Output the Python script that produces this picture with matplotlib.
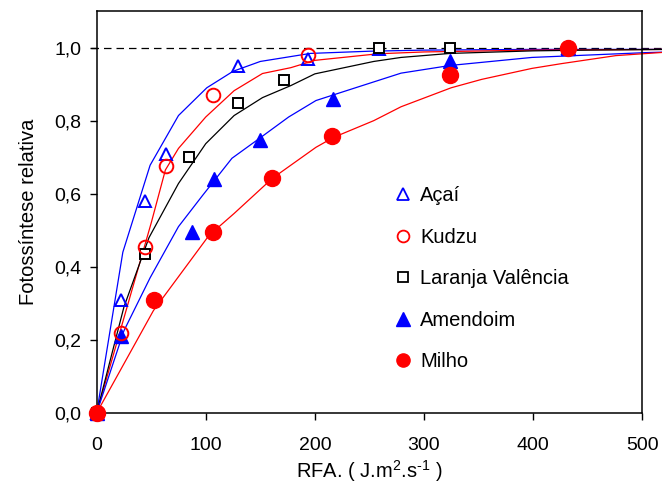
import matplotlib
matplotlib.use("Agg")
import matplotlib.pyplot as plt
from matplotlib.lines import Line2D

plt.rcParams['font.family'] = ['Liberation Sans', 'DejaVu Sans']
plt.rcParams['mathtext.fontset'] = 'custom'
plt.rcParams['mathtext.rm'] = 'Liberation Sans'
plt.rcParams['mathtext.default'] = 'regular'

# ---- observed data ----
acai_x = [0, 22, 44, 64, 130, 194, 259, 432]
acai_y = [0, 0.31, 0.58, 0.71, 0.95, 0.97, 0.995, 1.0]

kudzu_x = [0, 22, 44, 64, 107, 194]
kudzu_y = [0, 0.22, 0.455, 0.675, 0.87, 0.98]

laranja_x = [0, 44, 85, 130, 172, 259, 324]
laranja_y = [0, 0.434, 0.70, 0.848, 0.91, 1.0, 1.0]

amendoim_x = [0, 22, 87, 108, 150, 217, 324, 432]
amendoim_y = [0, 0.21, 0.495, 0.64, 0.746, 0.858, 0.962, 1.0]

milho_x = [0, 53, 107, 161, 216, 324, 432]
milho_y = [0, 0.309, 0.495, 0.642, 0.757, 0.926, 1.0]

# ---- fitted curves ----
fit_acai_x = [0, 24, 49, 75, 101, 125, 150, 196, 250, 300, 400, 525]
fit_acai_y = [0, 0.44, 0.678, 0.814, 0.89, 0.935, 0.962, 0.984, 0.99, 0.993, 0.995, 0.995]

fit_kudzu_x = [0, 25, 50, 63, 75, 100, 126, 152, 178, 200, 258, 300, 400, 525]
fit_kudzu_y = [0, 0.26, 0.52, 0.665, 0.724, 0.81, 0.882, 0.929, 0.945, 0.965, 0.983, 0.988, 0.993, 0.995]

fit_laranja_x = [0, 25, 48, 75, 100, 126, 152, 178, 200, 254, 279, 324, 400, 450, 525]
fit_laranja_y = [0, 0.29, 0.48, 0.628, 0.737, 0.814, 0.863, 0.896, 0.928, 0.962, 0.973, 0.984, 0.991, 0.993, 0.995]

fit_amendoim_x = [0, 25, 49, 75, 97, 124, 149, 176, 201, 230, 279, 324, 399, 502, 525]
fit_amendoim_y = [0, 0.225, 0.37, 0.51, 0.595, 0.697, 0.751, 0.81, 0.855, 0.883, 0.93, 0.951, 0.973, 0.986, 0.988]

fit_milho_x = [0, 52, 103, 126, 161, 201, 217, 254, 279, 325, 353, 399, 426, 476, 525]
fit_milho_y = [0, 0.28, 0.486, 0.546, 0.642, 0.727, 0.754, 0.80, 0.838, 0.89, 0.913, 0.943, 0.956, 0.978, 0.988]

labels = ['Açaí', 'Kudzu', 'Laranja Valência', 'Amendoim', 'Milho']
xticks = [0, 100, 200, 300, 400, 500]
yticks = [0.0, 0.2, 0.4, 0.6, 0.8, 1.0]
ytick_labels = ['0,0', '0,2', '0,4', '0,6', '0,8', '1,0']

W, H = 662, 492
fig = plt.figure(figsize=(W / 100, H / 100), dpi=100)
ax = fig.add_axes([0.146, 0.1606, 0.824, 0.817])

ax.plot([-5, 525], [1.0, 1.0], color='black', lw=0.9, ls=(0, (6, 4)), clip_on=False, zorder=1)

lw = 0.9
ax.plot(fit_acai_x, fit_acai_y, color='blue', lw=lw, clip_on=False, zorder=2)
ax.plot(fit_kudzu_x, fit_kudzu_y, color='red', lw=lw, clip_on=False, zorder=2)
ax.plot(fit_laranja_x, fit_laranja_y, color='black', lw=lw, clip_on=False, zorder=2)
ax.plot(fit_amendoim_x, fit_amendoim_y, color='blue', lw=lw, clip_on=False, zorder=2)
ax.plot(fit_milho_x, fit_milho_y, color='red', lw=lw, clip_on=False, zorder=2)

ax.plot(acai_x, acai_y, ls='none', marker='^', ms=9, mfc='none', mec='blue', mew=1.4, clip_on=False, zorder=3)
ax.plot(amendoim_x, amendoim_y, ls='none', marker='^', ms=10.5, mfc='blue', mec='blue', clip_on=False, zorder=3)
ax.plot(laranja_x, laranja_y, ls='none', marker='s', ms=7.5, mfc='white', mec='black', mew=1.4, clip_on=False, zorder=4)
ax.plot(milho_x, milho_y, ls='none', marker='o', ms=11.5, mfc='red', mec='red', clip_on=False, zorder=4)
ax.plot(kudzu_x, kudzu_y, ls='none', marker='o', ms=9.8, mfc='none', mec='red', mew=1.4, clip_on=False, zorder=5)

ax.set_xlim(0, 500)
ax.set_ylim(0, 1.1)
ax.set_xticks(xticks)
ax.set_xticklabels([str(v) for v in xticks])
ax.set_yticks(yticks)
ax.set_yticklabels(ytick_labels)
ax.tick_params(direction='out', length=5, width=1, labelsize=14)
ax.tick_params(axis='x', pad=12)
ax.tick_params(axis='y', pad=6)
for s in ax.spines.values():
    s.set_linewidth(1.1)

ax.set_xlabel('RFA. ( J.m$^2$.s$^{\u2010 1}$ )'.replace('\u2010 1', '\u20101'), fontsize=14.5, labelpad=3)
ax.set_ylabel('Fotossíntese relativa', fontsize=14.5, labelpad=12)

handles = [
    Line2D([], [], ls='none', marker='^', ms=9, mfc='none', mec='blue', mew=1.3),
    Line2D([], [], ls='none', marker='o', ms=8.5, mfc='none', mec='red', mew=1.3),
    Line2D([], [], ls='none', marker='s', ms=7.5, mfc='none', mec='black', mew=1.3),
    Line2D([], [], ls='none', marker='^', ms=10, mfc='blue', mec='blue'),
    Line2D([], [], ls='none', marker='o', ms=9.5, mfc='red', mec='red'),
]
ax.legend(handles, labels, loc='upper left', bbox_to_anchor=(395 / W, 1 - 186 / H),
          bbox_transform=fig.transFigure, frameon=False, borderpad=0, borderaxespad=0,
          fontsize=14.5, labelspacing=1.12, handlelength=0.8, handletextpad=0.45)

fig.savefig('out.png', dpi=100)
